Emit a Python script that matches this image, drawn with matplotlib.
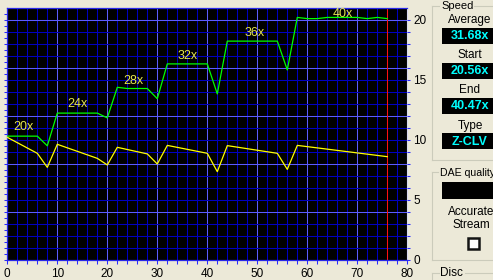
import numpy as np
import matplotlib
matplotlib.use("Agg")
import matplotlib.pyplot as plt
from matplotlib.lines import Line2D
from matplotlib.patches import Rectangle

plt.rcParams['font.family'] = ['Liberation Sans', 'DejaVu Sans']

# read speed (x) over disc position (minutes)
speed_time = [0, 6, 8, 10, 18, 20, 22, 24, 28, 30, 32, 40, 42, 44, 54, 56, 58,
              60, 62, 64, 66, 68, 70, 72, 74, 76]
speed = [20.56, 20.56, 18.95, 24.4, 24.4, 23.6, 28.7, 28.5, 28.5, 26.8, 32.6, 32.6,
         27.6, 36.4, 36.4, 31.6, 40.35, 40.15, 40.15, 40.35, 40.35, 40.35, 40.35,
         40.15, 40.35, 40.15]

# rotation speed (x1000 rpm, right axis)
rpm_time = [0, 6, 8, 10, 18, 20, 22, 28, 30, 32, 40, 42, 44, 54, 56, 58, 76]
rpm = [10.18, 8.85, 7.68, 9.6, 8.43, 7.88, 9.35, 8.8, 7.96, 9.51, 8.85, 7.32,
       9.49, 8.85, 7.51, 9.51, 8.57]

disc_length = 76

zone_labels = ['20x', '24x', '28x', '32x', '36x', '40x']
zone_label_time = [3.2, 14.1, 25.2, 36.1, 49.4, 67.2]
zone_label_speed = [22.1, 26.0, 29.75, 33.9, 37.8, 41.0]

x_ticks = list(range(0, 81, 10))
rpm_ticks = [0, 5, 10, 15, 20]

panel_stats = [('Average', '31.68x'), ('Start', '20.56x'), ('End', '40.47x'), ('Type', 'Z-CLV')]

W, H = 493, 280
BG = '#ece9d8'
DARK = '#0000c0'
BRIGHT = '#5c5cff'
TICK = '#2a2aff'


def fx(x):
    return x / W


def fy(y):
    return 1 - y / H


fig = plt.figure(figsize=(W / 100, H / 100), dpi=100)
fig.patch.set_facecolor(BG)

ax = fig.add_axes([fx(7.3), fy(259.5), 400 / W, (259.5 - 8.3) / H])
ax.set_facecolor('black')
ax.set_xlim(0, 80)
ax.set_ylim(0, 41.87)

# grid
for v in np.arange(2, 80, 2):
    ax.axvline(v, color=BRIGHT if v % 10 == 0 else DARK, lw=0.75, zorder=1)
for v in np.arange(2, 42, 2):
    ax.axhline(v, color=BRIGHT if v % 8 == 0 else DARK, lw=0.75, zorder=1)

ax.axvline(disc_length, color='#ff1010', lw=0.75, zorder=2)
ax.plot(speed_time, speed, color='#00ff00', lw=0.9, zorder=3)

for lab, t, s in zip(zone_labels, zone_label_time, zone_label_speed):
    ax.text(t, s, lab, color='#e6e650', fontsize=9, ha='center', va='center', zorder=4)

ax.set_xticks(x_ticks)
ax.set_xticks(np.arange(0, 81, 2), minor=True)
ax.set_yticks(np.arange(0, 42, 1))
ax.set_yticklabels([])
ax.tick_params(axis='x', which='both', direction='out', length=2.6, width=0.75,
               color=TICK, labelsize=8.5, pad=3.5, labelcolor='black')
ax.tick_params(axis='y', which='both', direction='out', length=2.4, width=0.75,
               color=TICK, left=True, right=False)
for side in ['left', 'top', 'bottom']:
    ax.spines[side].set_color('#2828e8')
    ax.spines[side].set_linewidth(0.9)
ax.spines['right'].set_color('#d8d8f0')

ax2 = ax.twinx()
ax2.set_ylim(0, 41.87 / 2)
ax2.plot(rpm_time, rpm, color='#ffff00', lw=0.9, zorder=3)
ax2.set_yticks(rpm_ticks)
ax2.set_yticks(np.arange(0, 21, 1), minor=True)
ax2.tick_params(axis='y', which='both', direction='out', length=2.4, width=0.75,
                color=TICK, labelsize=8.5, pad=2)
for side in ax2.spines:
    ax2.spines[side].set_visible(False)

# side panel
GB = '#cbcbbb'


def hline(x1, x2, y):
    fig.add_artist(Line2D([fx(x1), fx(x2)], [fy(y), fy(y)], color=GB, lw=0.8))


def vline(x, y1, y2):
    fig.add_artist(Line2D([fx(x), fx(x)], [fy(y1), fy(y2)], color=GB, lw=0.8))


def label(x, y, s, size=8.5, **kw):
    fig.text(fx(x), fy(y), s, ha='center', va='center', fontsize=size, **kw)


def black_box(y1, y2):
    fig.add_artist(Rectangle((fx(441.7), fy(y2)), fx(W - 441.7 + 5), (y2 - y1) / H,
                             facecolor='black', edgecolor='none'))


# speed group
hline(432.3, 439, 6)
hline(474, 493, 6)
vline(432.3, 6, 160)
hline(432.3, 493, 160)
fig.text(fx(441.7), fy(6), 'Speed', ha='left', va='center', fontsize=8)
box_tops = [27.7, 63, 97.7, 133.3]
for (name, val), top in zip(panel_stats, box_tops):
    label(470, top - 7.7, name)
    black_box(top, top + 16)
    label(470, top + 8.3, val, size=9, color='#00ffff', fontweight='bold')

# DAE quality group
hline(432.3, 438, 172.3)
vline(432.3, 172.3, 260)
hline(432.3, 493, 260)
fig.text(fx(439.5), fy(172.5), 'DAE quality', ha='left', va='center', fontsize=7.6)
black_box(181.7, 199)
label(471, 211.7, 'Accurate')
label(471, 225, 'Stream')
fig.add_artist(Rectangle((fx(468), fy(248.5)), 10.5 / W, 10.5 / H,
                         facecolor='white', edgecolor='#141414', lw=1.8))

# disc group
hline(432.3, 439, 272.5)
hline(465, 493, 272.5)
vline(432.3, 272.5, 281)
fig.text(fx(440), fy(273), 'Disc', ha='left', va='center', fontsize=8.5)

fig.savefig('out.png', dpi=100, facecolor=BG)
